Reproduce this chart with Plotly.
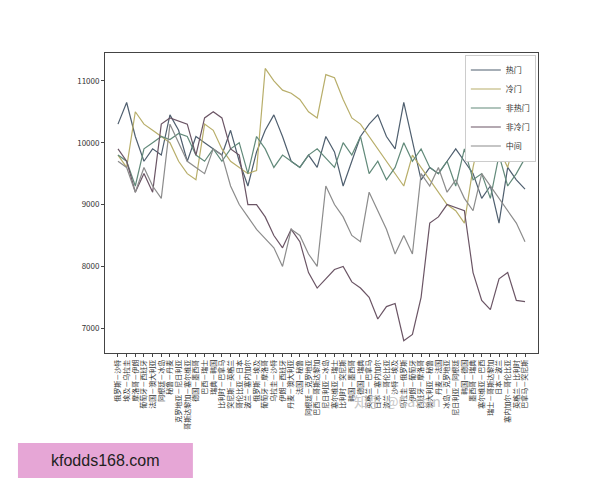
import plotly.graph_objects as go

matches = ["俄罗斯－沙特","埃及－乌拉圭","摩洛哥－伊朗","葡萄牙－西班牙","法国－澳大利亚","阿根廷－冰岛","秘鲁－丹麦","克罗地亚－尼日利亚",
"哥斯达黎加－塞尔维亚","德国－墨西哥","巴西－瑞士","瑞典－韩国","比利时－巴拿马","突尼斯－英格兰","哥伦比亚－日本","波兰－塞内加尔",
"俄罗斯－埃及","葡萄牙－摩洛哥","乌拉圭－沙特","伊朗－西班牙","丹麦－澳大利亚","法国－秘鲁","阿根廷－克罗地亚","巴西－哥斯达黎加",
"尼日利亚－冰岛","塞尔维亚－瑞士","比利时－突尼斯","韩国－墨西哥","德国－瑞典","英格兰－巴拿马","日本－塞内加尔","波兰－哥伦比亚",
"沙特－埃及","乌拉圭－俄罗斯","伊朗－葡萄牙","西班牙－摩洛哥","澳大利亚－秘鲁","丹麦－法国","冰岛－克罗地亚","尼日利亚－阿根廷",
"韩国－德国","墨西哥－瑞典","塞尔维亚－巴西","瑞士－哥斯达黎加","日本－波兰","塞内加尔－哥伦比亚","英格兰－比利时","巴拿马－突尼斯"]

hot = [10300,10650,10100,9700,9900,9800,10450,10200, 9700,10100,10000,9900,9800,10200,9700,9300,
       9850,10200,10450,10100,9700,9600,9800,9600, 10100,9850,9300,9700,10100,10300,10450,10100,
       9900,10650,10000,9400,9600,9500,9700,9900, 9700,9500,9100,9300,8700,9600,9400,9250]
cold = [9800,9600,10500,10300,10200,10100,10000,9700, 9500,9400,10300,10200,9900,9700,9600,9500,
        9550,11200,11000,10850,10800,10700,10500,10400, 11100,11050,10700,10400,10300,10100,9900,9700,
        9500,9300,9800,9600,9400,9200,9000,8900, 8700,9600,10250,10100,9900,9600,10150,9950]
nonhot = [9800,9700,9300,9900,10000,10100,10050,10150, 10100,9800,9700,9900,9700,9900,10000,9500,
          10100,9900,9600,9800,9700,9600,9800,9900, 9750,9600,10000,9800,10100,9500,9700,9400,
          9600,10000,9700,9900,9600,9500,9700,9300, 9900,9400,9500,9100,9800,9300,9500,9750]
noncold = [9900,9700,9200,9500,9200,10300,10400,10350, 10300,9800,10400,10500,10400,9900,9800,9000,
           9000,8800,8500,8300,8600,8400,7900,7650, 7800,7950,8000,7750,7650,7500,7150,7350,
           7400,6800,6900,7500,8700,8800,9000,8950, 8900,7900,7450,7300,7800,7900,7450,7430]
middle = [9700,9600,9200,9600,9300,9100,10300,10000, 9700,9600,9500,9900,9800,9300,9000,8800,
          8600,8450,8300,8000,8600,8500,8200,8000, 9300,9000,8800,8500,8400,9200,8900,8600,
          8200,8500,8200,9500,9300,9600,9200,9400, 9100,8900,9500,9300,9100,8900,8700,8400]

series = [("热门", hot, "#4f5f6f"), ("冷门", cold, "#b8ae6a"), ("非热门", nonhot, "#628a7a"),
          ("非冷门", noncold, "#6b5565"), ("中间", middle, "#8c8c8c")]

fig = go.Figure()
for name, vals, col in series:
    fig.add_trace(go.Scatter(x=matches, y=vals, mode="lines", name=name, line=dict(color=col, width=1.2)))

fig.update_layout(
    width=600, height=480, margin=dict(l=97, r=70, t=45, b=135),
    paper_bgcolor="white", plot_bgcolor="white",
    font=dict(family="Noto Sans CJK SC", size=8, color="#333"),
    showlegend=True,
    legend=dict(x=0.995, y=0.995, xanchor="right", yanchor="top", bordercolor="#ccc", borderwidth=1,
                font=dict(size=8), bgcolor="white", tracegroupgap=0, itemwidth=30),
    xaxis=dict(tickangle=-90, showgrid=False, showline=True, mirror=True, linecolor="#444",
               tickmode="array", tickvals=matches, ticktext=matches,
               ticks="outside", ticklen=3, tickfont=dict(size=7), range=[-1.5, 48.5]),
    yaxis=dict(range=[6600, 11450], tickvals=[7000,8000,9000,10000,11000], tickformat="d", showgrid=False,
               showline=True, mirror=True, linecolor="#444", ticks="outside", ticklen=3, tickfont=dict(size=8)),
    shapes=[dict(type="rect", xref="paper", yref="paper", x0=-0.201, x1=0.203, y0=-0.417, y1=-0.30,
                 fillcolor="#e6a6d6", line=dict(width=0), layer="above")],
    annotations=[
        dict(text="知乎 @Cassin", xref="paper", yref="paper", x=0.78, y=-0.2, showarrow=False,
             font=dict(size=14, color="#c8c8c8")),
        dict(text="kfodds168.com", xref="paper", yref="paper", x=0.0, y=-0.358, xanchor="center", yanchor="middle",
             showarrow=False, font=dict(size=16, color="#222", family="Liberation Sans")),
    ],
)
fig.write_html("out.html")
